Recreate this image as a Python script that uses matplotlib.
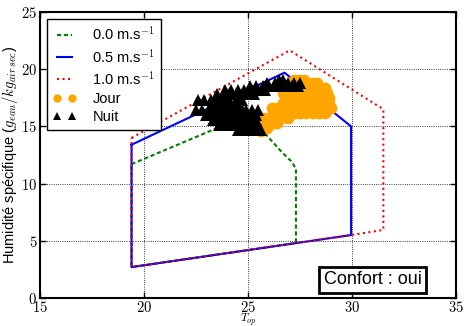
import matplotlib
matplotlib.use("Agg")
import matplotlib.pyplot as plt

plt.rcParams['font.family'] = ['Liberation Sans', 'DejaVu Sans']
plt.rcParams['mathtext.fontset'] = 'cm'

# zones de confort (T_op, humidite specifique) pour chaque vitesse d'air
v00_t = [19.4, 25.0, 25.5, 26.6, 27.1, 27.3, 27.3, 19.4, 19.4]
v00_q = [11.7, 16.0, 15.0, 12.8, 11.9, 11.3, 4.8, 2.7, 11.7]
v05_t = [19.4, 26.75, 29.95, 29.95, 19.4, 19.4]
v05_q = [13.4, 19.7, 15.0, 5.5, 2.7, 13.4]
v10_t = [19.4, 27.0, 31.5, 31.5, 29.95, 19.4, 19.4]
v10_q = [14.0, 21.65, 16.5, 5.95, 5.5, 2.7, 14.0]

# mesures de jour (lues ligne par ligne sur le nuage orange)
jour_q_rows = [19.1, 18.8, 18.35, 17.9, 17.5, 17.05, 16.6, 16.2, 15.7, 15.3, 14.9, 14.6]
jour_t_rows = [
    [27.2, 27.45, 27.7],
    [27.35, 27.6, 27.9, 28.1, 28.3],
    [27.5, 27.8, 28.1, 28.4, 28.7],
    [26.7, 27.0, 27.3, 27.6, 27.9, 28.2, 28.5, 28.8],
    [26.8, 27.1, 27.4, 27.7, 28.0, 28.3, 28.6, 28.9],
    [26.7, 27.0, 27.3, 27.6, 27.9, 28.2, 28.5, 28.9],
    [26.15, 26.4, 26.7, 27.0, 27.3, 27.6, 27.9, 28.2, 28.5, 28.8, 29.0],
    [26.3, 26.6, 26.9, 27.2, 27.5, 27.8, 28.1, 28.4, 28.7],
    [25.7, 26.0, 26.3, 26.6, 26.9],
    [25.9, 26.2, 26.4],
    [25.7, 25.9],
    [25.6],
]

# mesures de nuit (nuage noir)
nuit_q_rows = [19.1, 18.8, 18.5, 18.2, 17.8, 17.3, 16.9, 16.4, 16.0, 15.6, 15.1, 14.7]
nuit_t_rows = [
    [26.5, 26.7],
    [25.9, 26.3, 26.6, 26.9, 27.2, 27.5],
    [25.1, 25.4, 25.7, 26.0, 26.4, 26.8, 27.1, 27.4],
    [23.9, 24.2, 24.5, 24.8, 25.2, 25.5, 25.8],
    [23.5, 23.8, 24.1, 24.4, 24.7, 24.9, 25.3],
    [22.6, 22.9, 23.2, 23.5, 23.8, 24.1, 24.4, 24.7],
    [23.2, 23.5, 23.8, 24.1, 24.4, 24.6],
    [22.5, 22.8, 23.1, 23.4, 23.7, 24.0, 24.3, 24.6, 24.9, 25.2, 25.5],
    [23.0, 23.3, 23.6, 23.9, 24.2, 24.5, 24.8, 25.1, 25.4],
    [23.3, 23.6, 23.9, 24.2, 24.5, 24.8, 25.1, 25.4],
    [23.6, 23.9, 24.2, 24.5, 24.8, 25.1, 25.4],
    [24.5, 24.8, 25.1, 25.4, 25.6],
]

jour_t = [t for row in jour_t_rows for t in row]
jour_q = [q for q, row in zip(jour_q_rows, jour_t_rows) for t in row]
nuit_t = [t for row in nuit_t_rows for t in row]
nuit_q = [q for q, row in zip(nuit_q_rows, nuit_t_rows) for t in row]

xticks = [15, 20, 25, 30, 35]
yticks = [0, 5, 10, 15, 20, 25]

fig = plt.figure(figsize=(4.65, 3.26), dpi=100)
ax = fig.add_axes([0.086, 0.086, 0.895, 0.877])

ax.plot(v00_t, v00_q, color='green', ls='--', dashes=(2, 1.3), lw=1.5, label=r'0.0 m.s$^{-1}$')
ax.plot(v05_t, v05_q, color='blue', ls='-', lw=1.5, label=r'0.5 m.s$^{-1}$')
ax.plot(v10_t, v10_q, color='red', ls=':', lw=1.5, label=r'1.0 m.s$^{-1}$')
ax.plot(jour_t, jour_q, ls='', marker='o', ms=8.5, mew=0, color='orange', label='Jour')
ax.plot(nuit_t, nuit_q, ls='', marker='^', ms=9, mew=0, color='black', label='Nuit')

ax.set_xlim(15, 35)
ax.set_ylim(0, 25)
ax.set_xticks(xticks)
ax.set_yticks(yticks)
ax.set_xticklabels([f'${v}$' for v in xticks], fontsize=10.5)
ax.set_yticklabels([f'${v}$' for v in yticks], fontsize=10.5)
ax.tick_params(direction='in', top=True, right=True, length=4, width=1, pad=2)
ax.tick_params(axis='x', pad=1.5)
ax.grid(True, color='k', ls=':', lw=0.6)
for s in ax.spines.values():
    s.set_linewidth(1.5)

ax.set_xlabel(r'$T_{op}$', fontsize=8.5, va='top')
ax.xaxis.set_label_coords(0.5, -0.048)
ax.set_ylabel(r'Humidité spécifique ($g_{eau}/kg_{air\,sec}$)', fontsize=10.5, labelpad=1)

leg = ax.legend(loc='upper left', numpoints=2, fontsize=10.5, handlelength=1.6,
                handletextpad=1.1, fancybox=False, framealpha=1, borderaxespad=0.5,
                labelspacing=0.3)
leg.get_frame().set_edgecolor('black')
leg.get_frame().set_linewidth(1)
for h in leg.legend_handles[3:]:
    h.set_markersize(6)

ax.text(0.8, 0.063, 'Confort : oui', transform=ax.transAxes, fontsize=13,
        ha='center', va='center',
        bbox=dict(boxstyle='square,pad=0.25', fc='white', ec='black', lw=2))

fig.savefig('out.png', dpi=100)
